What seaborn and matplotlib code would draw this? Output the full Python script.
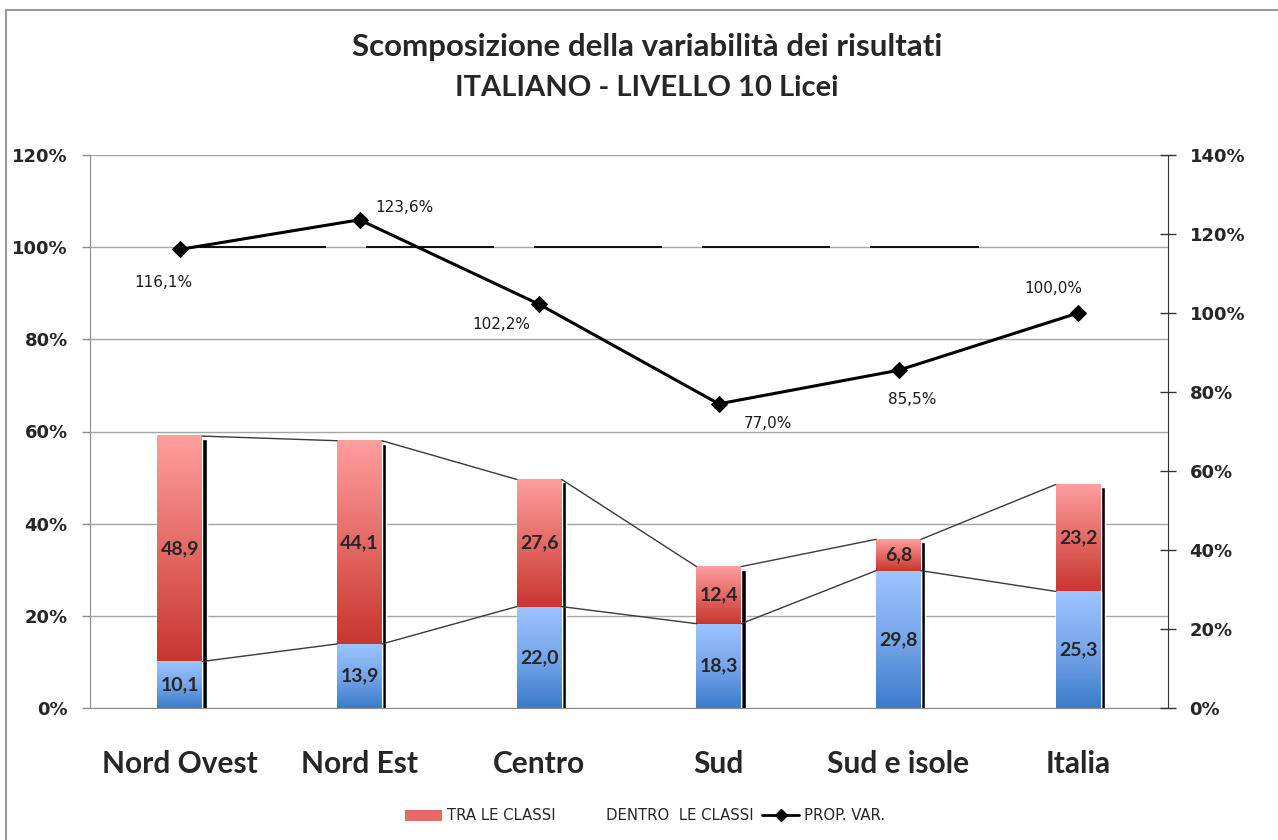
import numpy as np
import pandas as pd
import matplotlib
matplotlib.use("Agg")
import matplotlib.pyplot as plt
import matplotlib.transforms as mtransforms
from matplotlib.colors import LinearSegmentedColormap
from matplotlib.patches import Patch, Rectangle
from matplotlib.lines import Line2D
from matplotlib.ticker import FuncFormatter, MultipleLocator
import seaborn as sns

# Data
areas = ["Nord Ovest", "Nord Est", "Centro", "Sud", "Sud e isole", "Italia"]
dentro = [10.1, 13.9, 22.0, 18.3, 29.8, 25.3]      # DENTRO LE CLASSI
tra = [48.9, 44.1, 27.6, 12.4, 6.8, 23.2]          # TRA LE CLASSI
prop_var = [116.1, 123.6, 102.2, 77.0, 85.5, 100.0]  # PROP. VAR. (right axis)
ref_line = 100  # dashed reference on left axis

left_ticks = [0, 20, 40, 60, 80, 100, 120]
right_ticks = [0, 20, 40, 60, 80, 100, 120, 140]

# label offsets (pixels) for PROP. VAR. values
label_offsets = [(-16, -33), (45, 12), (-38, -20), (49, -20), (14, -29), (-25, 24)]

df = pd.DataFrame({"area": areas, "dentro": dentro, "tra": tra})
df["totale"] = df["dentro"] + df["tra"]

sns.set_style("white")
plt.rcParams["font.family"] = ["DejaVu Sans"]

W, H = 1278, 840
fig = plt.figure(figsize=(W / 100, H / 100), dpi=100)
ax = fig.add_axes([90 / W, 1 - 708 / H, 1078 / W, 553 / H])

# frame around the chart
fig.patches.append(Rectangle((6 / W, -0.1), 1.2, 1.1 - 10 / H, transform=fig.transFigure,
                             fill=False, edgecolor="#9a9a9a", lw=1.5))

bw = 0.25
# shadow bars
sns.barplot(data=df, x="area", y="totale", color="black", saturation=1, width=bw,
            errorbar=None, ax=ax, zorder=1.5)
shift = mtransforms.ScaledTranslation(4.5 / 100, -3 / 100, fig.dpi_scale_trans)
for p in ax.patches:
    p.set_transform(ax.transData + shift)
n0 = len(ax.patches)
sns.barplot(data=df, x="area", y="totale", color="#d9534f", saturation=1, width=bw,
            errorbar=None, ax=ax, zorder=2)
red_bars = ax.patches[n0:]
n1 = len(ax.patches)
sns.barplot(data=df, x="area", y="dentro", color="#5b8fd9", saturation=1, width=bw,
            errorbar=None, ax=ax, zorder=2)
blue_bars = ax.patches[n1:]

red_cmap = LinearSegmentedColormap.from_list("r", ["#c8362f", "#e46a66", "#ff9f9f"])
blue_cmap = LinearSegmentedColormap.from_list("b", ["#3b7bca", "#77a6ea", "#9dc4ff"])
grad = np.linspace(0, 1, 256).reshape(-1, 1)

for rp, bp, d, t in zip(red_bars, blue_bars, df["dentro"], df["totale"]):
    x0, w = bp.get_x(), bp.get_width()
    ax.imshow(grad, cmap=blue_cmap, origin="lower", aspect="auto",
              extent=(x0, x0 + w, 0, d), zorder=2.5, interpolation="bicubic")
    ax.imshow(grad, cmap=red_cmap, origin="lower", aspect="auto",
              extent=(x0, x0 + w, d, t), zorder=2.5, interpolation="bicubic")
    ax.text(x0 + w / 2, d / 2, f"{d:.1f}".replace(".", ","), ha="center", va="center",
            fontsize=14, fontweight="bold", family="Lato", zorder=4)
    ax.text(x0 + w / 2, d + (t - d) / 2, f"{t - d:.1f}".replace(".", ","), ha="center",
            va="center", fontsize=14, fontweight="bold", family="Lato", zorder=4)

# series lines between bars
for heights in (df["dentro"].values, df["totale"].values):
    for i in range(len(areas) - 1):
        a, b = blue_bars[i], blue_bars[i + 1]
        ax.plot([a.get_x() + a.get_width(), b.get_x()], [heights[i], heights[i + 1]],
                color="#3a3a3a", lw=1, zorder=2.6)

# dashed 100% line
ax.hlines(ref_line, 0.1, 4.45, colors="#111111", lw=1.44,
          linestyles=(0, (64, 20)), zorder=2.7)

ax.set_xlim(-0.5, len(areas) - 0.5)
ax.set_ylim(0, 120)
ax.set_yticks(left_ticks)
ax.yaxis.set_major_formatter(FuncFormatter(lambda v, _: f"{v:.0f}%"))
ax.grid(axis="y", color="#a6a6a6", lw=1)
ax.set_axisbelow(True)
ax.set_xlabel("")
ax.set_ylabel("")
ax.set_xticks(range(len(areas)))
ax.set_xticklabels(areas, family="Lato", fontweight="bold", fontsize=21.5)
ax.xaxis.set_minor_locator(MultipleLocator(1, offset=0.5))
ax.tick_params(axis="x", which="major", length=0, pad=30)
ax.tick_params(axis="x", which="minor", length=7, color="#8c8c8c", width=1, direction="out")
ax.tick_params(axis="y", length=6, color="#8c8c8c", width=1, direction="out", pad=10,
               labelsize=13)
for lab in ax.get_yticklabels():
    lab.set_fontweight("bold")
for s in ["top", "right"]:
    ax.spines[s].set_visible(False)
ax.spines["left"].set_color("#8c8c8c")
ax.spines["bottom"].set_color("#8c8c8c")

# secondary axis
ax2 = ax.twinx()
sns.lineplot(x=np.arange(len(areas)), y=prop_var, ax=ax2, color="black", lw=2.2,
             marker="D", markersize=8, markeredgecolor="black", zorder=5)
for i, (v, off) in enumerate(zip(prop_var, label_offsets)):
    ax2.annotate(f"{v:.1f}%".replace(".", ","), (i, v), xytext=off,
                 textcoords="offset pixels", ha="center", va="center", fontsize=11,
                 color="#1a1a1a")
ax2.set_ylim(0, 140)
ax2.set_yticks(right_ticks)
ax2.yaxis.set_major_formatter(FuncFormatter(lambda v, _: f"{v:.0f}%"))
ax2.tick_params(axis="y", length=11, color="#333333", width=1, direction="inout",
                pad=10, labelsize=13)
for lab in ax2.get_yticklabels():
    lab.set_fontweight("bold")
for s in ["top", "left", "bottom"]:
    ax2.spines[s].set_visible(False)
ax2.spines["right"].set_color("#333333")
ax2.grid(False)
ax2.set_xlim(-0.5, len(areas) - 0.5)

# titles
fig.text(647 / W, 1 - 47 / H, "Scomposizione della variabilità dei risultati",
         ha="center", va="center", family="Lato", fontweight="bold", fontsize=22.5)
fig.text(647 / W, 1 - 88 / H, "ITALIANO - LIVELLO 10 Licei",
         ha="center", va="center", family="Lato", fontweight="bold", fontsize=21)

# legend
handles = [Patch(facecolor="#e46a66", edgecolor="none"),
           Patch(facecolor="none", edgecolor="none"),
           Line2D([], [], color="black", lw=2, marker="D", markersize=6)]
labels = ["TRA LE CLASSI", "DENTRO  LE CLASSI", "PROP. VAR."]
fig.legend(handles, labels, loc="center", bbox_to_anchor=(645 / W, 1 - 816 / H), ncol=3,
           frameon=False, fontsize=10.7, handlelength=2.5, handleheight=0.8,
           handletextpad=0.3, columnspacing=0.6)

fig.savefig("out.png", dpi=100)
